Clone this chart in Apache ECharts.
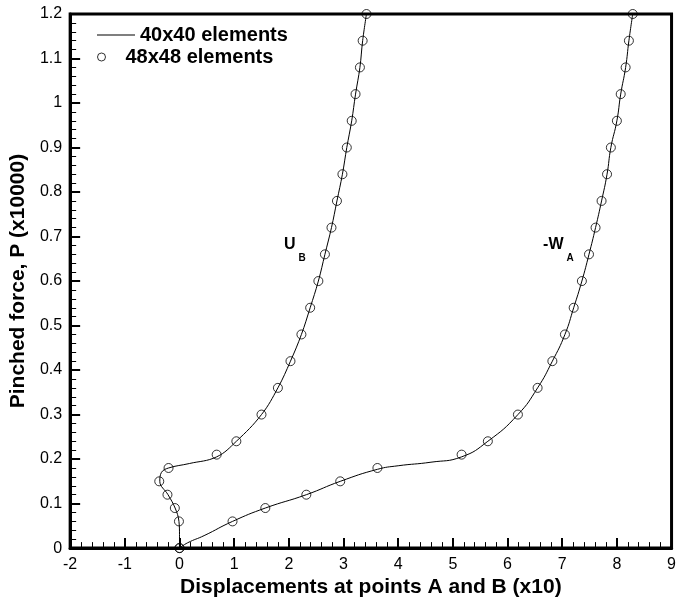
<!DOCTYPE html>
<html>
<head>
<meta charset="utf-8">
<script src="https://cdn.jsdelivr.net/npm/echarts@6/dist/echarts.min.js"></script>
<style>
  html, body { margin: 0; padding: 0; background: #fff; }
  #chart { width: 679px; height: 603px; }
</style>
</head>
<body>
<div id="chart"></div>
<script>
// 40x40 mesh: load P (x10000) and displacements U_B, -W_A (x10) along the path
const ubLineX = [0, 0, -0.01, -0.08, -0.21, -0.36, -0.33, -0.20, 0.18, 0.68, 1.04, 1.50, 1.80, 2.03, 2.23, 2.39, 2.54, 2.66, 2.78, 2.88, 2.98, 3.06, 3.15, 3.22, 3.30, 3.35, 3.42];
const ubLineP = [0, 0.03, 0.06, 0.09, 0.12, 0.15, 0.17, 0.18, 0.19, 0.205, 0.24, 0.30, 0.36, 0.42, 0.48, 0.54, 0.60, 0.66, 0.72, 0.78, 0.84, 0.90, 0.96, 1.02, 1.08, 1.14, 1.20];
const waLineX = [0, 0.15, 0.45, 0.97, 1.57, 2.32, 2.94, 3.62, 4.00, 4.60, 5.16, 5.64, 6.19, 6.55, 6.82, 7.05, 7.21, 7.36, 7.49, 7.61, 7.72, 7.82, 7.89, 8.00, 8.07, 8.16, 8.22, 8.29];
const waLineP = [0, 0.012, 0.028, 0.06, 0.09, 0.12, 0.15, 0.177, 0.185, 0.193, 0.205, 0.24, 0.30, 0.36, 0.42, 0.48, 0.54, 0.60, 0.66, 0.72, 0.78, 0.84, 0.90, 0.96, 1.02, 1.08, 1.14, 1.20];

// 48x48 mesh: load steps and the displacements at each step
const loadSteps = [0, 0.06, 0.09, 0.12, 0.15, 0.18, 0.21, 0.24, 0.30, 0.36, 0.42, 0.48, 0.54, 0.60, 0.66, 0.72, 0.78, 0.84, 0.90, 0.96, 1.02, 1.08, 1.14, 1.20];
const ubMarkX = [0, -0.01, -0.085, -0.22, -0.37, -0.20, 0.68, 1.04, 1.50, 1.80, 2.03, 2.23, 2.39, 2.54, 2.66, 2.78, 2.88, 2.98, 3.06, 3.15, 3.22, 3.30, 3.35, 3.42];
const waMarkX = [0, 0.97, 1.57, 2.32, 2.94, 3.62, 5.16, 5.64, 6.19, 6.55, 6.82, 7.05, 7.21, 7.36, 7.49, 7.61, 7.72, 7.82, 7.89, 8.00, 8.07, 8.16, 8.22, 8.29];

// Axis ranges
const xRange = [-2, 9];
const yRange = [0, 1.2];

const seriesNames = ['40x40 elements', '48x48 elements'];
const curveLabels = [
  { main: 'U', sub: 'B', at: [1.91, 0.668] },
  { main: '-W', sub: 'A', at: [6.65, 0.668] }
];

const pairs = (xs, ys) => xs.map((x, i) => [x, ys[i]]);

const FONT = '"Liberation Sans", Arial, Helvetica, sans-serif';

const chart = echarts.init(document.getElementById('chart'), null, { renderer: 'canvas' });

const lineStyle = { color: '#000', width: 1 };
const markerStyle = { color: 'rgba(255,255,255,0)', borderColor: '#000', borderWidth: 1 };
const legendText = { color: '#000', fontSize: 20, fontWeight: 'bold', fontFamily: FONT };

const axisCommon = {
  axisLine: { show: true, onZero: false, lineStyle: { color: '#000', width: 3 } },
  axisTick: { show: true, inside: true, length: 10, lineStyle: { color: '#000', width: 2 } },
  minorTick: { show: true, splitNumber: 5, length: 6, lineStyle: { color: '#000', width: 1 } },
  splitLine: { show: false },
  minorSplitLine: { show: false },
  axisLabel: { color: '#000', fontSize: 16, fontFamily: FONT, margin: 8 },
  nameTextStyle: { color: '#000', fontSize: 21, fontWeight: 'bold', fontFamily: FONT }
};

chart.setOption({
  animation: false,
  backgroundColor: '#fff',
  grid: {
    left: 70, right: 2, top: 14, bottom: 50,
    show: true, borderColor: '#000', borderWidth: 3, backgroundColor: 'transparent'
  },
  legend: [
    {
      data: [{ name: seriesNames[0], icon: 'rect', itemStyle: { color: '#000', borderWidth: 0 } }],
      left: 92, top: 20,
      itemWidth: 38, itemHeight: 1, itemGap: 0,
      textStyle: legendText
    },
    {
      data: [{
        name: seriesNames[1], icon: 'circle',
        itemStyle: { color: 'rgba(255,255,255,0)', borderColor: '#000', borderWidth: 1 }
      }],
      left: 92, top: 42,
      itemWidth: 38, itemHeight: 8, itemGap: 0,
      textStyle: legendText
    }
  ],
  xAxis: Object.assign({}, axisCommon, {
    type: 'value',
    min: xRange[0], max: xRange[1], interval: 1,
    name: 'Displacements at points A and B (x10)',
    nameLocation: 'middle', nameGap: 26
  }),
  yAxis: Object.assign({}, axisCommon, {
    type: 'value',
    min: yRange[0], max: yRange[1], interval: 0.1,
    name: 'Pinched force, P (x10000)',
    nameLocation: 'middle', nameGap: 35, nameRotate: 90
  }),
  series: [
    {
      name: seriesNames[0], type: 'line', data: pairs(ubLineX, ubLineP),
      symbol: 'none', smooth: 0.4, lineStyle: lineStyle, itemStyle: { color: '#000' }, z: 2
    },
    {
      name: seriesNames[0], type: 'line', data: pairs(waLineX, waLineP),
      symbol: 'none', smooth: 0.5, lineStyle: lineStyle, itemStyle: { color: '#000' }, z: 2
    },
    {
      name: seriesNames[1], type: 'scatter', data: pairs(ubMarkX, loadSteps),
      symbol: 'circle', symbolSize: 9, itemStyle: markerStyle, clip: false, z: 3
    },
    {
      name: seriesNames[1], type: 'scatter', data: pairs(waMarkX, loadSteps),
      symbol: 'circle', symbolSize: 9, itemStyle: markerStyle, clip: false, z: 3
    }
  ]
});

// Curve labels with subscripts, anchored at data positions
const measure = document.createElement('canvas').getContext('2d');
const labelGraphics = [];
curveLabels.forEach(function (lab) {
  const p = chart.convertToPixel({ xAxisIndex: 0, yAxisIndex: 0 }, lab.at);
  const mainFont = 'bold 16px ' + FONT;
  measure.font = mainFont;
  const w = measure.measureText(lab.main).width;
  labelGraphics.push({
    type: 'text', x: p[0], y: p[1] - 6, z: 10,
    style: { text: lab.main, fill: '#000', font: mainFont, verticalAlign: 'middle' }
  });
  labelGraphics.push({
    type: 'text', x: p[0] + w + 3, y: p[1] + 7, z: 10,
    style: { text: lab.sub, fill: '#000', font: 'bold 10px ' + FONT, verticalAlign: 'middle' }
  });
});
chart.setOption({ graphic: labelGraphics });
</script>
</body>
</html>
